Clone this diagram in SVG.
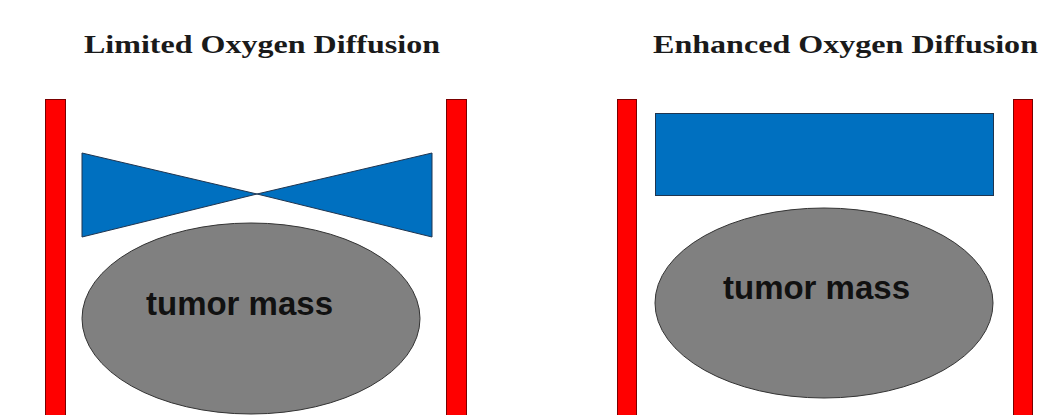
<svg xmlns="http://www.w3.org/2000/svg" width="1059" height="415" viewBox="0 0 1059 415">
<style>
.title{font-family:"Liberation Serif","DejaVu Serif",serif;font-weight:bold;font-size:25px;fill:#1a1a1a}
.wall{fill:#ff0000;stroke:#7a0000;stroke-width:1}
.o2{fill:#0070c0;stroke:#1f3550;stroke-width:1}
.tumor{fill:#808080;stroke:#333;stroke-width:1}
.lbl{font-family:"Liberation Sans",Arial,sans-serif;font-weight:bold;font-size:34px;fill:#111}
</style>
<rect width="1059" height="415" fill="#fff"/>
<g id="left-panel">
<text class="title" x="262" y="53" text-anchor="middle" textLength="356" lengthAdjust="spacingAndGlyphs">Limited Oxygen Diffusion</text>
<g id="left-wall-l"><rect class="wall" x="45.5" y="99.5" width="20" height="320"/></g>
<g id="left-wall-r"><rect class="wall" x="446.5" y="99.5" width="20" height="320"/></g>
<g id="left-oxygen"><polygon class="o2" points="82,153 257,194 432,153 432,237 257,194 82,237"/></g>
<g id="left-tumor">
<ellipse class="tumor" cx="251" cy="318.5" rx="169" ry="95.5"/>
<text class="lbl" x="239.5" y="315" text-anchor="middle" textLength="187" lengthAdjust="spacingAndGlyphs">tumor mass</text>
</g>
</g>
<g id="right-panel">
<text class="title" x="845.5" y="53" text-anchor="middle" textLength="385" lengthAdjust="spacingAndGlyphs">Enhanced Oxygen Diffusion</text>
<g id="right-wall-l"><rect class="wall" x="617.5" y="99.5" width="19" height="320"/></g>
<g id="right-wall-r"><rect class="wall" x="1013.5" y="99.5" width="19" height="320"/></g>
<g id="right-oxygen"><rect class="o2" x="655.5" y="113.5" width="338" height="82"/></g>
<g id="right-tumor">
<ellipse class="tumor" cx="824" cy="303" rx="169" ry="95"/>
<text class="lbl" x="816.5" y="299" text-anchor="middle" textLength="187" lengthAdjust="spacingAndGlyphs">tumor mass</text>
</g>
</g>
<g id="connectors"/>
</svg>
